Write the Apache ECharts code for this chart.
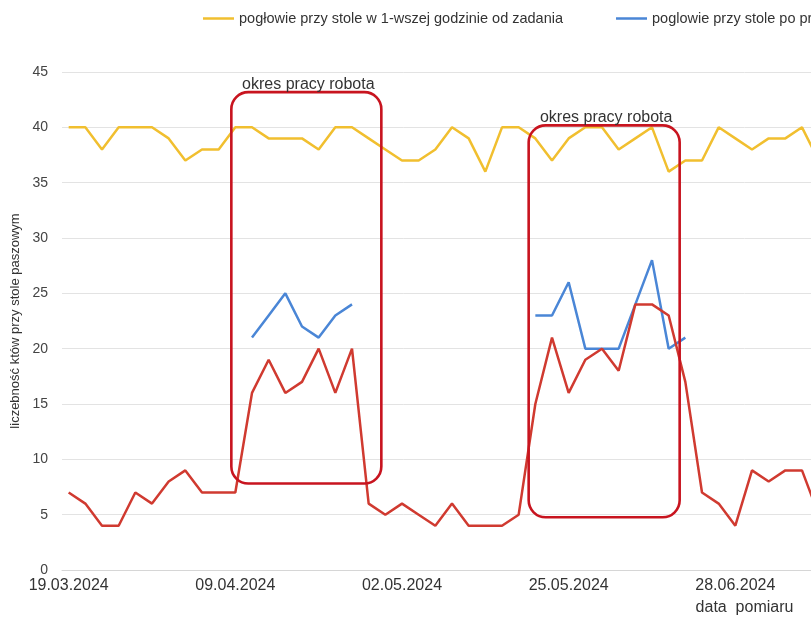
<!DOCTYPE html>
<html>
<head>
<meta charset="utf-8">
<script src="https://cdn.jsdelivr.net/npm/echarts@6/dist/echarts.min.js"></script>
<style>
  html, body { margin: 0; padding: 0; overflow: hidden; background: #ffffff; }
  #chart { width: 1458px; height: 621px; }
</style>
</head>
<body>
<div id="chart"></div>
<script>
// Date labels shown every 10th measurement
const tickLabels = ['19.03.2024', '09.04.2024', '02.05.2024', '25.05.2024', '28.06.2024'];

// Head count at the feed table, one value per measurement
const firstHour = [40, 40, 38, 40, 40, 40, 39, 37, 38, 38, 40, 40, 39, 39, 39, 38, 40, 40, 39, 38,
                   37, 37, 38, 40, 39, 36, 40, 40, 39, 37, 39, 40, 40, 38, 39, 40, 36, 37, 37, 40,
                   39, 38, 39, 39, 40, 37];
const afterRobot = [null, null, null, null, null, null, null, null, null, null, null, 21, 23, 25, 22, 21, 23, 24, null, null,
                    null, null, null, null, null, null, null, null, 23, 23, 26, 20, 20, 20, 24, 28, 20, 21, null, null,
                    null, null, null, null, null, null];
const beforeRobot = [7, 6, 4, 4, 7, 6, 8, 9, 7, 7, 7, 16, 19, 16, 17, 20, 16, 20, 6, 5,
                     6, 5, 4, 6, 4, 4, 4, 5, 15, 21, 16, 19, 20, 18, 24, 24, 23, 17, 7, 6,
                     4, 9, 8, 9, 9, 5];

// Robot working periods: [from index, to index, lower bound, upper bound]
const robotPeriods = [
  [9.76, 18.76, 7.81, 43.18],
  [27.6, 36.66, 4.76, 40.18]
];
const periodLabel = 'okres pracy robota';

const seriesNames = [
  'pogłowie przy stole w 1-wszej godzinie od zadania',
  'poglowie przy stole po przejeździe robota',
  'pogłowie przy stole przed przejazdem robota'
];

const FONT = '"Liberation Sans", Arial, sans-serif';
const toPairs = arr => arr.map((v, i) => [i, v]);

const chart = echarts.init(document.getElementById('chart'), null, { renderer: 'canvas' });

chart.setOption({
  animation: false,
  backgroundColor: '#ffffff',
  textStyle: { fontFamily: FONT },
  legend: {
    data: seriesNames,
    left: 198,
    top: 6,
    icon: 'rect',
    itemWidth: 31,
    itemHeight: 2.5,
    itemGap: 53,
    textStyle: { fontSize: 14.5, color: '#333333', fontFamily: FONT }
  },
  grid: { left: 62, top: 72, width: 1365, bottom: 48, containLabel: false },
  xAxis: {
    type: 'value',
    min: -0.4,
    max: 81.5,
    axisLine: { show: true, lineStyle: { color: '#d6d6d6', width: 1 } },
    axisTick: { show: false },
    splitLine: { show: false },
    axisLabel: {
      customValues: [0, 10, 20, 30, 40, 50, 60, 70, 80],
      formatter: v => tickLabels[Math.round(v / 10)] || '',
      fontSize: 16,
      color: '#333333',
      margin: 8,
      fontFamily: FONT
    },
    name: 'data  pomiaru',
    nameLocation: 'middle',
    nameGap: 30,
    nameTextStyle: { fontSize: 16, color: '#333333', fontFamily: FONT }
  },
  yAxis: {
    type: 'value',
    min: 0,
    max: 45,
    interval: 5,
    axisLine: { show: false },
    axisTick: { show: false },
    splitLine: { lineStyle: { color: '#e3e3e3', width: 1 } },
    axisLabel: { fontSize: 14, color: '#444444', margin: 14, fontFamily: FONT },
    name: 'liczebność któw przy stole paszowym',
    nameLocation: 'middle',
    nameGap: 40,
    nameTextStyle: { fontSize: 13, color: '#333333', fontFamily: FONT }
  },
  series: [
    {
      name: seriesNames[0],
      type: 'line',
      data: toPairs(firstHour),
      symbol: 'none',
      lineStyle: { color: '#f1bf2f', width: 2.5 },
      itemStyle: { color: '#f1bf2f' },
      z: 2
    },
    {
      name: seriesNames[1],
      type: 'line',
      data: toPairs(afterRobot),
      symbol: 'none',
      connectNulls: false,
      lineStyle: { color: '#4a86d6', width: 2.5 },
      itemStyle: { color: '#4a86d6' },
      z: 3
    },
    {
      name: seriesNames[2],
      type: 'line',
      data: toPairs(beforeRobot),
      symbol: 'none',
      lineStyle: { color: '#d03a30', width: 2.5 },
      itemStyle: { color: '#d03a30' },
      z: 3
    },
    {
      type: 'custom',
      silent: true,
      clip: false,
      z: 5,
      data: robotPeriods,
      encode: { x: [0, 1], y: [2, 3] },
      renderItem: (params, api) => {
        const topLeft = api.coord([api.value(0), api.value(3)]);
        const bottomRight = api.coord([api.value(1), api.value(2)]);
        const w = bottomRight[0] - topLeft[0];
        const h = bottomRight[1] - topLeft[1];
        return {
          type: 'group',
          children: [
            {
              type: 'rect',
              shape: { x: topLeft[0], y: topLeft[1], width: w, height: h, r: 17 },
              style: { fill: 'none', stroke: '#c8141f', lineWidth: 2.6 }
            },
            {
              type: 'text',
              x: topLeft[0] + w / 2 + 2,
              y: topLeft[1] - 8,
              style: {
                text: periodLabel,
                align: 'center',
                verticalAlign: 'middle',
                font: '16px ' + FONT,
                fill: '#333333'
              }
            }
          ]
        };
      }
    }
  ]
});
</script>
</body>
</html>
